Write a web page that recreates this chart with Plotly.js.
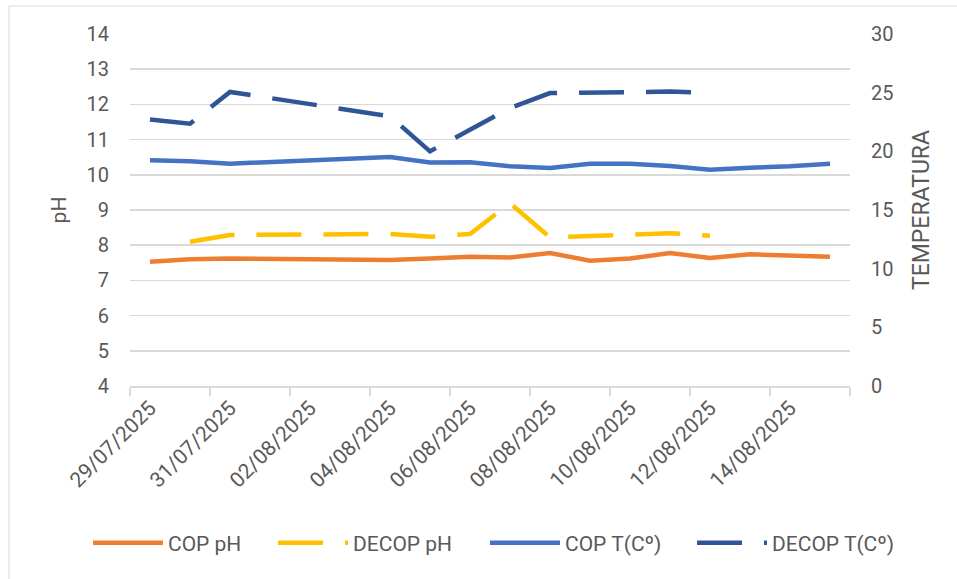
<!DOCTYPE html>
<html>
<head>
<meta charset="utf-8">
<script src="https://cdn.plot.ly/plotly-3.0.1.min.js"></script>
<style>html,body{margin:0;padding:0;background:#fff;}#chart{width:957px;height:579px;}</style>
</head>
<body>
<div id="chart"></div>
<script>
const dates = ['29/07/2025','30/07/2025','31/07/2025','01/08/2025','02/08/2025','03/08/2025','04/08/2025','05/08/2025','06/08/2025','07/08/2025','08/08/2025','09/08/2025','10/08/2025','11/08/2025','12/08/2025','13/08/2025','14/08/2025','15/08/2025'];
const copPH   = [7.53, 7.60, 7.62, null, null, null, 7.58, 7.62, 7.67, 7.65, 7.78, 7.56, 7.62, 7.78, 7.64, 7.74, 7.69, 7.67];
const decopPH = [null, 8.10, 8.29, null, null, null, 8.32, 8.24, 8.32, 9.19, 8.22, 8.26, 8.30, 8.34, 8.27, null, null, null];
const copT    = [19.24, 19.15, 18.95, null, null, null, 19.52, 19.04, 19.07, 18.72, 18.58, 18.95, 18.95, 18.75, 18.44, 18.61, 18.72, 18.95];
const decopT  = [22.71, 22.36, 25.06, null, null, null, 22.99, 20.00, 21.84, 23.69, 24.97, 25.01, 25.09, 25.09, 24.97, null, null, null];

const FONT = 'Roboto, "Open Sans", sans-serif';
const GRAY = '#595959';
const LW = 4.5;
const DASH = '45px,22px';

const traces = [
  {x: dates, y: copPH, name: 'COP pH', type: 'scatter', mode: 'lines', connectgaps: true,
   line: {color: '#ED7D31', width: LW}, yaxis: 'y', legend: 'legend'},
  {x: dates, y: decopPH, name: 'DECOP pH', type: 'scatter', mode: 'lines', connectgaps: true,
   line: {color: '#FFC000', width: LW, dash: DASH}, yaxis: 'y', legend: 'legend2'},
  {x: dates, y: copT, name: 'COP T(Cº)', type: 'scatter', mode: 'lines', connectgaps: true,
   line: {color: '#4472C4', width: LW}, yaxis: 'y2', legend: 'legend3'},
  {x: dates, y: decopT, name: 'DECOP T(Cº)', type: 'scatter', mode: 'lines', connectgaps: true,
   line: {color: '#2F5597', width: LW, dash: DASH}, yaxis: 'y2', legend: 'legend4'}
];

function leg(px) {
  return {orientation: 'h', x: (px - 130) / 720, xanchor: 'left', y: -0.446, yanchor: 'middle',
          font: {family: FONT, size: 21, color: GRAY}, itemwidth: 70, bgcolor: 'rgba(0,0,0,0)'};
}

const layout = {
  width: 957, height: 579,
  margin: {l: 130, r: 107, t: 34, b: 193},
  paper_bgcolor: '#ffffff', plot_bgcolor: '#ffffff',
  font: {family: FONT, color: GRAY, size: 20},
  showlegend: true,
  legend: leg(88),
  legend2: leg(273),
  legend3: leg(485),
  legend4: leg(692),
  xaxis: {type: 'category', range: [-0.5, 17.5], dtick: 2, tick0: 0, tickangle: -45,
          tickson: 'boundaries', ticks: 'outside', ticklen: 8, tickcolor: '#d9d9d9', tickwidth: 1.5,
          showline: true, linecolor: '#d9d9d9', linewidth: 1.5, showgrid: false, zeroline: false,
          tickfont: {family: FONT, size: 21, color: GRAY}, fixedrange: true},
  yaxis: {range: [4, 14], dtick: 1, tick0: 4, showgrid: true, gridcolor: '#d9d9d9', gridwidth: 1.5,
          zeroline: false, showline: false, ticks: '', ticklabelstandoff: 20,
          tickfont: {family: FONT, size: 20, color: GRAY},
          title: {text: 'pH', font: {family: FONT, size: 21, color: GRAY}, standoff: 14}},
  yaxis2: {range: [0, 30], dtick: 5, tick0: 0, overlaying: 'y', side: 'right', showgrid: false,
           zeroline: false, showline: false, ticks: '', ticklabelstandoff: 20,
           tickfont: {family: FONT, size: 20, color: GRAY},
           title: {text: 'TEMPERATURA', font: {family: FONT, size: 23, color: GRAY}, standoff: 20}},
  shapes: [{type: 'rect', xref: 'paper', yref: 'paper', x0: -0.168, x1: 1.16, y0: -0.57, y1: 1.0795,
            line: {color: '#d9d9d9', width: 1}, fillcolor: 'rgba(0,0,0,0)', layer: 'below'}]
};

Plotly.newPlot('chart', traces, layout, {displayModeBar: false, staticPlot: true});
</script>
</body>
</html>
